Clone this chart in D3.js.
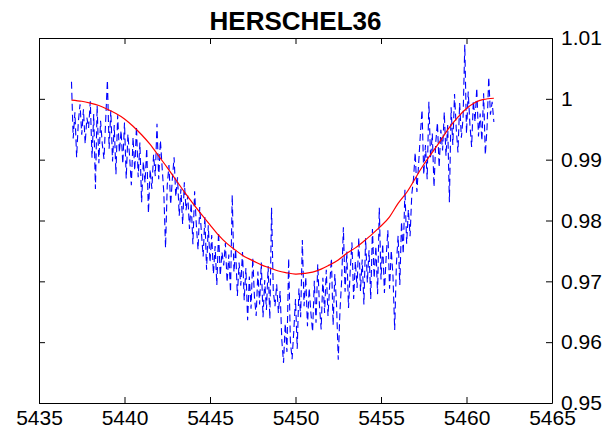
<!DOCTYPE html>
<html>
<head>
<meta charset="utf-8">
<script src="https://cdn.jsdelivr.net/npm/d3@7"></script>
<style>
  html, body { margin: 0; padding: 0; background: #fff; }
  svg { display: block; font-family: "Liberation Sans", Arial, sans-serif; }
</style>
</head>
<body>
<svg id="chart" width="613" height="439"></svg>
<script>
// Light curve of HERSCHEL36: observation dates (JD - 2450000) and normalised flux
const jd = [
  5436.9, 5437.0, 5437.1, 5437.2, 5437.3, 5437.4, 5437.5, 5437.6, 5437.7, 5437.8,
  5437.9, 5438.0, 5438.1, 5438.2, 5438.3, 5438.4, 5438.5, 5438.6, 5438.7, 5438.8,
  5438.9, 5439.0, 5439.1, 5439.2, 5439.3, 5439.4, 5439.5, 5439.6, 5439.7, 5439.8,
  5439.9, 5440.0, 5440.1, 5440.2, 5440.3, 5440.4, 5440.5, 5440.6, 5440.7, 5440.8,
  5440.9, 5441.0, 5441.1, 5441.2, 5441.3, 5441.4, 5441.5, 5441.6, 5441.7, 5441.8,
  5441.9, 5442.0, 5442.1, 5442.2, 5442.3, 5442.4, 5442.5, 5442.6, 5442.7, 5442.8,
  5442.9, 5443.0, 5443.1, 5443.2, 5443.3, 5443.4, 5443.5, 5443.6, 5443.7, 5443.8,
  5443.9, 5444.0, 5444.1, 5444.2, 5444.3, 5444.4, 5444.5, 5444.6, 5444.7, 5444.8,
  5444.9, 5445.0, 5445.1, 5445.2, 5445.3, 5445.4, 5445.5, 5445.6, 5445.7, 5445.8,
  5445.9, 5446.0, 5446.1, 5446.2, 5446.3, 5446.4, 5446.5, 5446.6, 5446.7, 5446.8,
  5446.9, 5447.0, 5447.1, 5447.2, 5447.3, 5447.4, 5447.5, 5447.6, 5447.7, 5447.8,
  5447.9, 5448.0, 5448.1, 5448.2, 5448.3, 5448.4, 5448.5, 5448.6, 5448.7, 5448.8,
  5448.9, 5449.0, 5449.1, 5449.2, 5449.3, 5449.4, 5449.5, 5449.6, 5449.7, 5449.8,
  5449.9, 5450.0, 5450.1, 5450.2, 5450.3, 5450.4, 5450.5, 5450.6, 5450.7, 5450.8,
  5450.9, 5451.0, 5451.1, 5451.2, 5451.3, 5451.4, 5451.5, 5451.6, 5451.7, 5451.8,
  5451.9, 5452.0, 5452.1, 5452.2, 5452.3, 5452.4, 5452.5, 5452.6, 5452.7, 5452.8,
  5452.9, 5453.0, 5453.1, 5453.2, 5453.3, 5453.4, 5453.5, 5453.6, 5453.7, 5453.8,
  5453.9, 5454.0, 5454.1, 5454.2, 5454.3, 5454.4, 5454.5, 5454.6, 5454.7, 5454.8,
  5454.9, 5455.0, 5455.1, 5455.2, 5455.3, 5455.4, 5455.5, 5455.6, 5455.7, 5455.8,
  5455.9, 5456.0, 5456.1, 5456.2, 5456.3, 5456.4, 5456.5, 5456.6, 5456.7, 5456.8,
  5456.9, 5457.0, 5457.1, 5457.2, 5457.3, 5457.4, 5457.5, 5457.6, 5457.7, 5457.8,
  5457.9, 5458.0, 5458.1, 5458.2, 5458.3, 5458.4, 5458.5, 5458.6, 5458.7, 5458.8,
  5458.9, 5459.0, 5459.1, 5459.2, 5459.3, 5459.4, 5459.5, 5459.6, 5459.7, 5459.8,
  5459.9, 5460.0, 5460.1, 5460.2, 5460.3, 5460.4, 5460.5, 5460.6, 5460.7, 5460.8,
  5460.9, 5461.0, 5461.1, 5461.2, 5461.3, 5461.4, 5461.5, 5461.6
];

const flux = [
  1.0028, 0.9935, 0.9978, 0.9904, 0.9962, 0.9991, 0.9941, 0.9983, 0.9926, 0.9969,
  0.9952, 0.9996, 0.9903, 0.9975, 0.9852, 0.9989, 0.9894, 0.9964, 0.9926, 0.9901,
  0.9965, 1.0031, 0.9918, 0.9981, 0.9897, 0.9957, 0.9876, 0.9973, 0.9912, 0.9948,
  0.9893, 0.9961, 0.9869, 0.9942, 0.9905, 0.9858, 0.9937, 0.9882, 0.9955, 0.9871,
  0.9928, 0.9830, 0.9897, 0.9862, 0.9919, 0.9812, 0.9884, 0.9852, 0.9908, 0.9873,
  0.9959, 0.9868, 0.9932, 0.9887, 0.9845, 0.9755, 0.9858, 0.9891, 0.9826, 0.9869,
  0.9904, 0.9839, 0.9871, 0.9808, 0.9852, 0.9794, 0.9863, 0.9817, 0.9841, 0.9786,
  0.9829, 0.9761, 0.9848, 0.9793, 0.9752, 0.9822, 0.9779, 0.9741, 0.9806, 0.9719,
  0.9792, 0.9731, 0.9776, 0.9712, 0.9758, 0.9694, 0.9781, 0.9709, 0.9748, 0.9726,
  0.9763, 0.9698, 0.9744, 0.9682, 0.9842, 0.9715, 0.9753, 0.9676, 0.9731, 0.9693,
  0.9748, 0.9669, 0.9722, 0.9636, 0.9708, 0.9655, 0.9739, 0.9674, 0.9643, 0.9716,
  0.9662, 0.9731, 0.9641, 0.9702, 0.9653, 0.9725, 0.9638, 0.9821, 0.9684, 0.9659,
  0.9695, 0.9648, 0.9684, 0.9603, 0.9566, 0.9631, 0.9584, 0.9738, 0.9602, 0.9572,
  0.9618, 0.9671, 0.9589, 0.9688, 0.9641, 0.9768, 0.9659, 0.9707, 0.9626, 0.9689,
  0.9648, 0.9617, 0.9701, 0.9632, 0.9728, 0.9661, 0.9621, 0.9706, 0.9648, 0.9719,
  0.9643, 0.9694, 0.9738, 0.9628, 0.9712, 0.9662, 0.9571, 0.9651, 0.9702, 0.9789,
  0.9683, 0.9749, 0.9656, 0.9718, 0.9764, 0.9671, 0.9733, 0.9689, 0.9772, 0.9684,
  0.9736, 0.9662, 0.9771, 0.9698, 0.9751, 0.9671, 0.9786, 0.9705, 0.9758, 0.9679,
  0.9821, 0.9703, 0.9762, 0.9681, 0.9739, 0.9784, 0.9688, 0.9751, 0.9709, 0.9620,
  0.9728, 0.9775, 0.9694, 0.9798, 0.9745, 0.9851, 0.9762, 0.9818, 0.9774, 0.9843,
  0.9868, 0.9912, 0.9847, 0.9893, 0.9941, 0.9982, 0.9875, 0.9924, 0.9868, 0.9995,
  0.9902, 0.9943, 0.9855, 0.9928, 0.9961, 0.9887, 0.9949, 0.9915, 0.9978, 0.9906,
  0.9957, 0.9830, 0.9986, 0.9924, 1.0008, 0.9951, 0.9912, 0.9993, 0.9936, 0.9969,
  1.0089, 0.9943, 1.0012, 0.9958, 0.9921, 0.9997, 0.9962, 1.0018, 0.9938, 0.9976,
  0.9931, 1.0009, 0.9908, 0.9952, 1.0036, 0.9974, 0.9995, 0.9962
];

// Smooth model fitted to the light curve
const fitJd = [
  5436.9, 5437.5, 5438.0, 5438.5, 5439.0, 5439.5, 5440.0, 5440.5, 5441.0, 5441.5,
  5442.0, 5442.5, 5443.0, 5443.5, 5444.0, 5444.5, 5445.0, 5445.5, 5446.0, 5446.5,
  5447.0, 5447.5, 5448.0, 5448.5, 5449.0, 5449.5, 5450.0, 5450.5, 5451.0, 5451.5,
  5452.0, 5452.5, 5453.0, 5453.5, 5454.0, 5454.5, 5455.0, 5455.5, 5456.0, 5456.5,
  5457.0, 5457.5, 5458.0, 5458.5, 5459.0, 5459.5, 5460.0, 5460.5, 5461.0, 5461.6
];
const fitFlux = [
  0.9998, 0.9996, 0.9993, 0.9989, 0.9983, 0.9976, 0.9967, 0.9955, 0.9941, 0.9925,
  0.9906, 0.9887, 0.9867, 0.9847, 0.9828, 0.9810, 0.9793, 0.9776, 0.9762, 0.9751,
  0.9741, 0.9734, 0.9727, 0.9722, 0.9717, 0.9714, 0.9712, 0.9713, 0.9715, 0.9720,
  0.9727, 0.9735, 0.9746, 0.9755, 0.9766, 0.9778, 0.9791, 0.9806, 0.9828, 0.9846,
  0.9869, 0.9892, 0.9912, 0.9932, 0.9953, 0.9970, 0.9984, 0.9994, 0.9999, 1.0001
];

const xTicks = [5435, 5440, 5445, 5450, 5455, 5460, 5465];
const yTicks = [0.95, 0.96, 0.97, 0.98, 0.99, 1.00, 1.01];
const yTickLabels = ["0.95", "0.96", "0.97", "0.98", "0.99", "1", "1.01"];
const title = "HERSCHEL36";

const svg = d3.select("#chart");
const plotLeft = 39, plotRight = 552, plotTop = 38, plotBottom = 403;

const x = d3.scaleLinear().domain([5435, 5465]).range([plotLeft, plotRight]);
const y = d3.scaleLinear().domain([0.95, 1.01]).range([plotBottom, plotTop]);

// Data series
const obs = jd.map((t, i) => [t, flux[i]]);
const fit = fitJd.map((t, i) => [t, fitFlux[i]]);

svg.append("path")
  .datum(obs)
  .attr("fill", "none")
  .attr("stroke", "#0000ff")
  .attr("stroke-width", 1.1)
  .attr("stroke-dasharray", "7,4")
  .attr("d", d3.line().x(d => x(d[0])).y(d => y(d[1])));

svg.append("path")
  .datum(fit)
  .attr("fill", "none")
  .attr("stroke", "#ff0000")
  .attr("stroke-width", 1.2)
  .attr("d", d3.line().curve(d3.curveNatural).x(d => x(d[0])).y(d => y(d[1])));

// Axes: box with inward ticks on all four sides, labels bottom and right
function styleAxis(g) {
  g.selectAll("path.domain").attr("stroke", "#000").attr("stroke-width", 1);
  g.selectAll(".tick line").attr("stroke", "#000").attr("stroke-width", 1);
  g.selectAll(".tick text")
    .attr("fill", "#000")
    .style("font-family", "'Liberation Sans', Arial, sans-serif")
    .style("font-size", "21px");
}

svg.append("g")
  .attr("transform", `translate(0,${plotBottom})`)
  .call(d3.axisBottom(x).tickValues(xTicks).tickFormat(d3.format("d"))
    .tickSizeInner(-6).tickSizeOuter(0).tickPadding(7))
  .call(styleAxis);

svg.append("g")
  .attr("transform", `translate(0,${plotTop})`)
  .call(d3.axisTop(x).tickValues(xTicks).tickFormat("")
    .tickSizeInner(-6).tickSizeOuter(0))
  .call(styleAxis);

svg.append("g")
  .attr("transform", `translate(${plotRight},0)`)
  .call(d3.axisRight(y).tickValues(yTicks).tickFormat((d, i) => yTickLabels[i])
    .tickSizeInner(-6).tickSizeOuter(0).tickPadding(9))
  .call(styleAxis);

svg.append("g")
  .attr("transform", `translate(${plotLeft},0)`)
  .call(d3.axisLeft(y).tickValues(yTicks).tickFormat("")
    .tickSizeInner(-6).tickSizeOuter(0))
  .call(styleAxis);

svg.append("text")
  .attr("x", (plotLeft + plotRight) / 2)
  .attr("y", 30)
  .attr("text-anchor", "middle")
  .attr("font-weight", "bold")
  .attr("font-size", "26px")
  .attr("fill", "#000")
  .text(title);
</script>
</body>
</html>
